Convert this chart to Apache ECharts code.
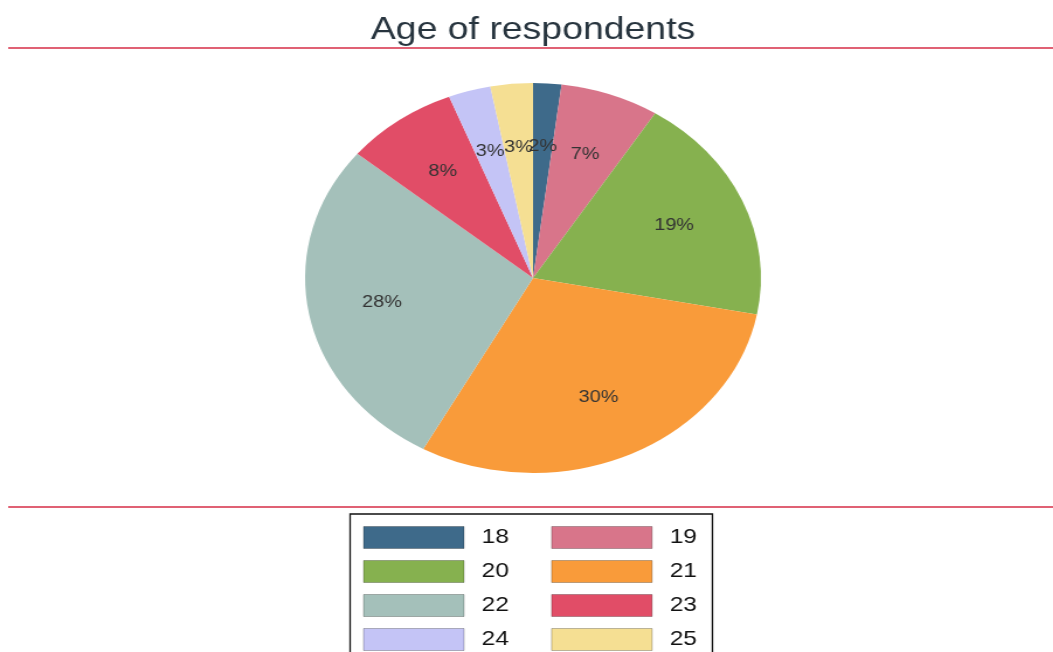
<!DOCTYPE html>
<html>
<head>
<meta charset="utf-8">
<script src="https://cdn.jsdelivr.net/npm/echarts@6/dist/echarts.min.js"></script>
<style>
  html, body { margin: 0; padding: 0; background: #fff; overflow: hidden; width: 1053px; height: 652px; }
  /* the chart is laid out narrower, then widened so the pie becomes an ellipse */
  #chart { width: 912px; height: 652px; transform: scaleX(1.1689); transform-origin: 0 0; }
</style>
</head>
<body>
<div id="chart"></div>
<script>
const ages = ['18', '19', '20', '21', '22', '23', '24', '25'];
const shares = [2, 7, 19, 30, 28, 8, 3, 3];
const sliceColors = ['#3e6a8a', '#d8758a', '#86b14f', '#f99b3a', '#a4c0ba', '#e14d67', '#c4c4f6', '#f5df93'];
const legendLeftCol = ['18', '20', '22', '24'];
const legendRightCol = ['19', '21', '23', '25'];

const FONT = "'Liberation Sans', Arial, sans-serif";
const chart = echarts.init(document.getElementById('chart'), null, { renderer: 'canvas' });

const pieData = ages.map((a, i) => ({ name: a, value: shares[i], itemStyle: { color: sliceColors[i] } }));
const labelData = ages.map((a, i) => ({ name: a, value: shares[i] }));

const legendCommon = {
  orient: 'vertical',
  top: 526,
  padding: 0,
  itemWidth: 86,
  itemHeight: 22,
  itemGap: 11,
  icon: 'rect',
  selectedMode: false,
  itemStyle: { borderColor: 'rgba(0,0,0,0.25)', borderWidth: 1 },
  textStyle: { fontFamily: FONT, fontSize: 21, color: '#111', padding: [0, 0, 0, 10] }
};

chart.setOption({
  animation: false,
  title: {
    text: 'Age of respondents',
    left: 'center',
    top: 14,
    padding: 0,
    textStyle: { fontFamily: FONT, fontSize: 32, fontWeight: 'normal', color: '#27343e' }
  },
  legend: [
    Object.assign({}, legendCommon, { left: 310.5, data: legendLeftCol }),
    Object.assign({}, legendCommon, { left: 471.4, data: legendRightCol })
  ],
  graphic: [
    { type: 'line', shape: { x1: 7, y1: 48, x2: 912, y2: 48 }, style: { stroke: '#d62c46', lineWidth: 1.5 } },
    { type: 'line', shape: { x1: 7, y1: 507, x2: 912, y2: 507 }, style: { stroke: '#d62c46', lineWidth: 1.5 } },
    { type: 'rect', shape: { x: 299.5, y: 514, width: 310, height: 200 }, style: { fill: 'none', stroke: '#111', lineWidth: 1.3 }, z: -1 }
  ],
  series: [
    {
      type: 'pie',
      center: [456, 278],
      radius: [0, 195],
      startAngle: 90,
      clockwise: true,
      silent: true,
      label: { show: false },
      labelLine: { show: false },
      data: pieData
    },
    {
      // transparent ring that only carries the percentage labels
      type: 'pie',
      center: [456, 278],
      radius: [62, 195],
      startAngle: 90,
      clockwise: true,
      silent: true,
      avoidLabelOverlap: false,
      labelLayout: { hideOverlap: false },
      itemStyle: { color: 'rgba(0,0,0,0)' },
      label: {
        show: true,
        position: 'inside',
        formatter: p => p.value + '%',
        fontFamily: FONT,
        fontSize: 17,
        color: '#333'
      },
      labelLine: { show: false },
      data: labelData
    }
  ]
});
</script>
</body>
</html>
